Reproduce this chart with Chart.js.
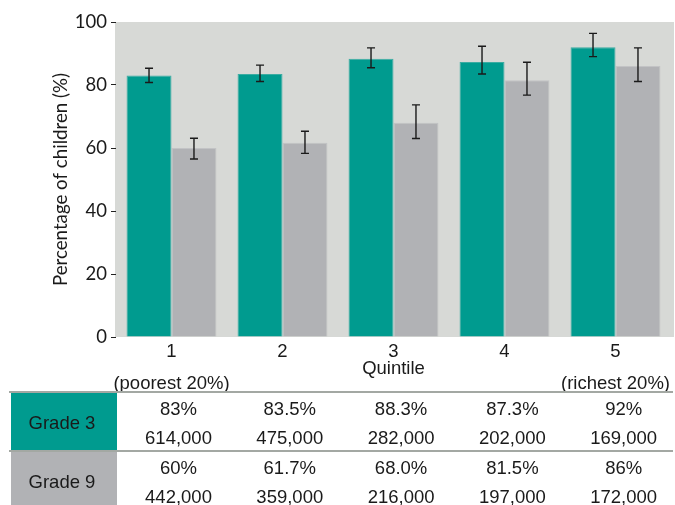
<!DOCTYPE html>
<html>
<head>
<meta charset="utf-8">
<script src="https://cdn.jsdelivr.net/npm/chart.js@4.4.1/dist/chart.umd.min.js"></script>
<style>
  body { margin: 0; background: #fff; width: 675px; height: 505px; overflow: hidden; position: relative;
         font-family: "Liberation Sans", Arial, sans-serif; color: #1a1a1a; }
  #chart_box { position: absolute; left: 0; top: 0; width: 675px; height: 393px; }
  .hline { position: absolute; left: 9px; width: 664px; height: 2px; background: #a3a8a3; }
  .cell { position: absolute; left: 11px; width: 106px; }
  .txt { position: absolute; width: 110px; margin-left: -55px; text-align: center; font-size: 18.5px; line-height: 20px; white-space: nowrap; }
</style>
</head>
<body>
<div id="chart_box"><canvas id="chart_quintile" width="675" height="393"></canvas></div>
<div id="table_box"></div>
<script>
// kategorier
var quintiles = [['1', '(poorest 20%)'], '2', '3', '4', ['5', '(richest 20%)']];

// andel barn (%) per kvintil, som i tabellen
var grade3_pct = ['83%', '83.5%', '88.3%', '87.3%', '92%'];
var grade9_pct = ['60%', '61.7%', '68.0%', '81.5%', '86%'];

// antal barn
var grade3_count = [614000, 475000, 282000, 202000, 169000];
var grade9_count = [442000, 359000, 216000, 197000, 172000];

// felstaplar (nedre/övre gräns)
var grade3_low  = [80.8, 81.1, 85.5, 83.5, 89.0];
var grade3_high = [85.3, 86.3, 91.8, 92.3, 96.4];
var grade9_low  = [56.5, 58.3, 63.0, 76.8, 81.1];
var grade9_high = [63.1, 65.3, 73.7, 87.2, 91.8];

var teal = '#009b8f';
var grey = '#b1b2b5';

/**
 * Grå bakgrund bakom staplarna
 */
var plot_bg = {
	id: 'plot_bg',
	beforeDraw: function(chart)
	{
		var a = chart.chartArea;
		var ctx = chart.ctx;
		ctx.save();
		ctx.fillStyle = '#d7d9d6';
		ctx.fillRect(a.left - 1, a.top, chart.width - a.left, a.bottom - a.top);
		ctx.restore();
	}
};

/**
 * Felstaplar, ritade via y-skalan
 */
var error_bars = {
	id: 'error_bars',
	afterDatasetsDraw: function(chart)
	{
		var ctx = chart.ctx;
		var y = chart.scales.y;
		chart.data.datasets.forEach(function(ds, di){
			chart.getDatasetMeta(di).data.forEach(function(bar, i){
				var top = y.getPixelForValue(ds.errHigh[i]);
				var bot = y.getPixelForValue(ds.errLow[i]);
				ctx.save();
				ctx.strokeStyle = '#1a1a1a';
				ctx.lineWidth = 1.4;
				ctx.beginPath();
				ctx.moveTo(bar.x, top); ctx.lineTo(bar.x, bot);
				ctx.moveTo(bar.x - 4, top); ctx.lineTo(bar.x + 4, top);
				ctx.moveTo(bar.x - 4, bot); ctx.lineTo(bar.x + 4, bot);
				ctx.stroke();
				ctx.restore();
			});
		});
	}
};

setup_chart();
setup_table();

function setup_chart()
{
	var params = {
		type: 'bar',
		data: {
			labels: quintiles,
			datasets: [{
				label: 'Grade 3',
				data: grade3_pct.map(parseFloat),
				errLow: grade3_low,
				errHigh: grade3_high,
				backgroundColor: teal,
				borderColor: '#3aaca2',
				borderWidth: 1,
				borderSkipped: 'bottom'
			}, {
				label: 'Grade 9',
				data: grade9_pct.map(parseFloat),
				errLow: grade9_low,
				errHigh: grade9_high,
				backgroundColor: grey,
				borderColor: '#c2c3c5',
				borderWidth: 1,
				borderSkipped: 'bottom'
			}]
		},
		options: {
			responsive: false,
			animation: false,
			layout: { padding: { left: 40, top: 22, right: 4, bottom: 0 } },
			plugins: { legend: { display: false }, tooltip: { enabled: false } },
			datasets: { bar: { categoryPercentage: 0.81, barPercentage: 1 } },
			scales: {
				x: {
					grid: { display: false, drawTicks: false },
					border: { display: false },
					ticks: {
						autoSkip: false, maxRotation: 0, padding: -1.5, color: '#1a1a1a',
						font: { family: '"Liberation Sans", Arial, sans-serif', size: 18.5, lineHeight: '32px' }
					},
					title: {
						display: true, text: 'Quintile', color: '#1a1a1a',
						font: { family: '"Liberation Sans", Arial, sans-serif', size: 18.5, lineHeight: 1.2 },
						padding: { top: 0, bottom: 13 }
					},
					afterFit: function(s){ s.height = 56; }
				},
				y: {
					min: 0, max: 100,
					grid: { drawOnChartArea: false, drawTicks: true, tickLength: 5, color: '#222', lineWidth: 1 },
					border: { display: false },
					ticks: { stepSize: 20, padding: 4, color: '#1a1a1a', font: { family: 'Lato', size: 18.5 } },
					title: {
						display: true, text: 'Percentage of children (%)', color: '#1a1a1a',
						font: { family: 'Lato', size: 18.7, lineHeight: 1.2 },
						padding: { top: 10, bottom: 0 }
					},
					afterFit: function(s){ s.width = 76; }
				}
			}
		},
		plugins: [plot_bg, error_bars]
	};
	new Chart(document.getElementById('chart_quintile'), params);
}

/**
 * Tabellen under diagrammet
 */
function setup_table()
{
	var box = document.getElementById('table_box');
	var rows = [
		{ name: 'Grade 3', pct: grade3_pct, count: grade3_count, color: teal, top: 393 },
		{ name: 'Grade 9', pct: grade9_pct, count: grade9_count, color: grey, top: 452 }
	];
	var html = '';
	rows.forEach(function(r){
		html += '<div class="hline" style="top:' + (r.top - 2) + 'px"></div>';
		html += '<div class="cell" style="top:' + r.top + 'px;height:58px;background:' + r.color + '"></div>';
		html += '<div class="txt" style="left:62px;top:' + (r.top + 20) + 'px">' + r.name + '</div>';
		for(var i = 0; i < r.pct.length; i++)
		{
			var cx = 178.5 + i * 111.3;
			html += '<div class="txt" style="left:' + cx + 'px;top:' + (r.top + 6) + 'px">' + r.pct[i] + '</div>';
			html += '<div class="txt" style="left:' + cx + 'px;top:' + (r.top + 35) + 'px">' + r.count[i].toLocaleString('en-US') + '</div>';
		}
	});
	box.innerHTML = html;
}
</script>
</body>
</html>
